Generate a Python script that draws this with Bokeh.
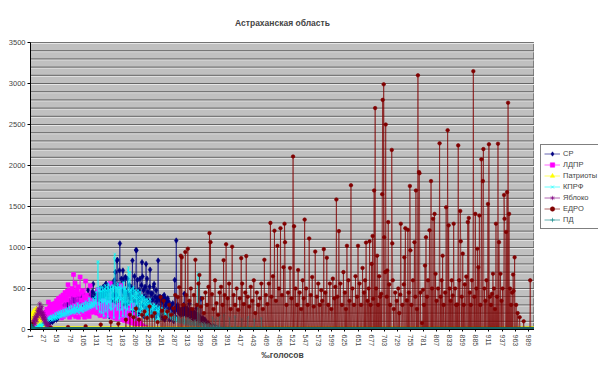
from bokeh.plotting import figure
from bokeh.layouts import row
from bokeh.models import (Range1d, FixedTicker, Legend, LegendItem,
                          ColumnDataSource)
from bokeh.embed import file_html
from bokeh.resources import INLINE

# ---------------- data ----------------
N_CAT = 1001
categories = list(range(1, N_CAT + 1))          # ‰ of votes

x_tick_labels = [1, 27, 53, 79, 105, 131, 157, 183, 209, 235, 261, 287, 313,
                 339, 365, 391, 417, 443, 469, 495, 521, 547, 573, 599, 625,
                 651, 677, 703, 729, 755, 781, 807, 833, 859, 885, 911, 937,
                 963, 989]
y_ticks = [0, 500, 1000, 1500, 2000, 2500, 3000, 3500]
grid_levels = [100 * k for k in range(1, 36)]

series_names = ["СР", "ЛДПР", "Патриоты", "КПРФ", "Яблоко", "ЕДРО", "ПД"]

# values from category 1 onward (rest are zero)
sr_vals = [
    0, 0, 5, 0, 10, 0, 5, 10, 0, 15,
    10, 20, 5, 25, 15, 30, 10, 20, 35, 15,
    30, 45, 20, 40, 60, 30, 50, 70, 40, 60,
    80, 50, 90, 60, 100, 70, 120, 80, 110, 90,
    130, 100, 150, 90, 140, 170, 110, 160, 130, 190,
    150, 120, 200, 170, 140, 220, 160, 190, 250, 180,
    210, 160, 240, 200, 270, 180, 230, 300, 210, 260,
    190, 280, 240, 320, 220, 260, 350, 240, 300, 270,
    330, 250, 290, 380, 260, 310, 240, 350, 280, 400,
    300, 260, 340, 280, 420, 310, 270, 360, 300, 390,
    280, 340, 450, 300, 380, 260, 330, 410, 290, 360,
    320, 400, 280, 350, 480, 310, 370, 290, 420, 340,
    380, 300, 460, 350, 555, 320, 400, 370, 440, 300,
    410, 360, 480, 335, 390, 450, 320, 420, 500, 380,
    440, 360, 480, 400, 520, 380, 460, 420, 500, 555,
    555, 300, 470, 220, 500, 330, 160, 480, 250, 520,
    350, 190, 560, 280, 420, 180, 600, 300, 700, 240,
    420, 840, 850, 300, 180, 540, 720, 1050, 260, 380,
    620, 200, 480, 720, 605, 260, 440, 150, 640, 330,
    460, 250, 620, 300, 180, 430, 540, 220, 380, 520,
    300, 450, 840, 220, 480, 290, 650, 340, 160, 970,
    965, 260, 605, 400, 190, 480, 360, 620, 240, 380,
    540, 820, 645, 300, 480, 160, 400, 520, 260, 800,
    300, 620, 180, 460, 340, 250, 520, 730, 280, 440,
    200, 440, 360, 180, 520, 555, 260, 400, 150, 480,
    340, 200, 380, 840, 260, 400, 180, 360, 395, 220,
    380, 140, 340, 400, 260, 420, 120, 380, 300, 160,
    340, 200, 380, 180, 340, 260, 120, 300, 280, 140,
    300, 160, 320, 240, 100, 220, 605, 260, 150, 1085,
    280, 240, 300, 220, 260, 200, 240, 180, 220, 185,
    240, 200, 260, 180, 300, 435, 220, 260, 180, 240,
    200, 260, 180, 220, 160, 315, 200, 180, 240, 160,
    200, 140, 180, 220, 120, 160, 200, 140, 180, 255,
    150, 120, 180, 100, 160, 130, 90, 140, 375, 110,
    120, 90, 140, 70, 100, 80, 120, 60, 90, 50,
    70, 40, 80, 30, 60, 20, 50, 0, 30, 0,
    20, 0, 40, 0, 10, 0, 30, 0, 0, 20,
]

ldpr_vals = [
    0, 10, 20, 15, 30, 25, 40, 30, 50, 45,
    60, 40, 80, 55, 90, 70, 110, 60, 120, 90,
    140, 80, 160, 110, 180, 130, 150, 200, 120, 170,
    210, 140, 250, 180, 230, 335, 190, 260, 150, 280,
    220, 310, 180, 210, 260, 300, 170, 240, 320, 200,
    280, 350, 220, 300, 250, 380, 210, 330, 285, 260,
    400, 140, 350, 220, 420, 160, 380, 250, 450, 180,
    400, 210, 360, 470, 545, 200, 420, 150, 480, 260,
    440, 180, 500, 240, 460, 670, 290, 420, 565, 160,
    450, 220, 480, 300, 520, 150, 430, 280, 640, 210,
    360, 250, 450, 475, 180, 330, 400, 150, 380, 590,
    220, 420, 180, 380, 240, 300, 160, 360, 535, 210,
    280, 350, 240, 320, 300, 210, 340, 260, 290, 230,
    270, 200, 310, 485, 220, 250, 190, 280, 170, 240,
    300, 180, 260, 220, 350, 200, 280, 160, 240, 310,
    220, 290, 180, 250, 200, 330, 170, 230, 560, 190,
    260, 180, 300, 150, 240, 200, 170, 280, 140, 220,
    190, 250, 130, 210, 160, 300, 140, 200, 180, 537,
    170, 230, 120, 190, 150, 260, 110, 180, 140, 200,
    130, 210, 100, 170, 240, 120, 190, 90, 280, 150,
    110, 160, 80, 300, 120, 90, 140, 70, 180, 100,
    60, 120, 80, 50, 100, 40, 90, 30, 70, 20,
    50, 0, 40, 20, 0, 30, 0, 10, 0, 20,
]

patr_vals = [
    60, 120, 90, 180, 140, 210, 100, 230, 160, 200,
    130, 250, 110, 190, 150, 90, 170, 70, 130, 60,
    100, 50, 80, 40, 60, 30, 50, 20, 40, 10,
    30, 0, 20, 0, 10, 0, 10, 0, 0, 0,
]

kprf_vals = [
    0, 5, 10, 0, 15, 10, 20, 5, 25, 15,
    30, 20, 40, 25, 50, 30, 60, 40, 70, 50,
    50, 30, 70, 40, 80, 50, 90, 60, 100, 70,
    110, 80, 120, 90, 140, 100, 150, 110, 160, 120,
    130, 170, 110, 150, 120, 180, 140, 160, 120, 200,
    140, 170, 130, 210, 150, 190, 140, 220, 160, 200,
    150, 230, 170, 200, 160, 240, 180, 210, 160, 250,
    190, 230, 170, 260, 200, 230, 180, 280, 210, 240,
    190, 290, 210, 250, 200, 270, 220, 300, 200, 260,
    230, 280, 210, 320, 230, 260, 200, 300, 240, 280,
    220, 310, 240, 270, 210, 320, 250, 290, 230, 340,
    260, 300, 240, 330, 280, 250, 380, 270, 310, 260,
    340, 280, 320, 270, 380, 300, 340, 280, 400, 310,
    460, 250, 500, 820, 830, 300, 480, 210, 520, 350,
    470, 200, 520, 330, 480, 160, 500, 340, 540, 220,
    480, 310, 520, 150, 560, 330, 490, 260, 530, 240,
    500, 250, 540, 370, 510, 140, 870, 920, 280, 520,
    360, 510, 240, 560, 380, 520, 130, 500, 360, 540,
    240, 510, 380, 160, 580, 330, 500, 260, 520, 140,
    480, 340, 240, 720, 760, 300, 460, 700, 240, 480,
    330, 500, 160, 410, 520, 240, 390, 480, 120, 460,
    310, 440, 170, 480, 390, 220, 350, 460, 170, 400,
    240, 420, 370, 190, 320, 400, 150, 370, 300, 180,
    330, 370, 180, 350, 310, 130, 260, 370, 190, 310,
    280, 130, 260, 290, 140, 310, 270, 100, 220, 290,
    240, 120, 220, 260, 90, 280, 240, 120, 190, 260,
    230, 260, 200, 250, 180, 240, 210, 190, 230, 170,
    210, 180, 160, 220, 150, 200, 170, 140, 190, 130,
    180, 150, 120, 170, 140, 110, 160, 130, 100, 150,
    120, 140, 100, 130, 90, 150, 110, 80, 120, 100,
    90, 130, 80, 110, 150, 70, 120, 90, 100, 60,
    110, 80, 140, 70, 100, 60, 90, 120, 50, 80,
    70, 100, 60, 90, 50, 80, 110, 60, 70, 40,
    90, 60, 680, 80, 50, 650, 70, 40, 60, 80,
    50, 70, 40, 60, 30, 80, 50, 40, 60, 30,
    50, 40, 60, 30, 70, 40, 50, 30, 40, 20,
    40, 150, 30, 50, 20, 40, 30, 120, 20, 40,
    30, 20, 40, 10, 30, 160, 20, 30, 10, 20,
    10, 0, 20, 0, 180, 10, 0, 20, 0, 10,
    0, 20, 0, 10, 0, 140, 0, 10, 0, 0,
    20, 0, 0, 10, 0, 0, 160, 0, 0, 10,
    0, 0, 20, 0, 0, 0, 10, 0, 0, 130,
    0, 0, 10, 0, 0, 0, 0, 20, 0, 0,
    0, 150, 0, 0, 0, 10, 0, 0, 0, 0,
    0, 0, 0, 0, 120, 0, 0, 0, 0, 0,
    0, 0, 0, 0, 0, 0, 0, 0, 140, 0,
]

yabl_vals = [
    20, 50, 40, 80, 60, 110, 90, 140, 70, 160,
    120, 190, 100, 230, 150, 260, 180, 220, 315, 200,
    250, 170, 280, 140, 210, 120, 180, 90, 150, 70,
    120, 50, 90, 40, 70, 30, 50, 20, 30, 10,
    20, 0, 10, 0, 0,
]

pd_vals = [30, 60, 40, 20, 10, 0, 15, 0, 5, 0]

# ЕДРО: non-zero categories only  {category: value}
edro_points = {
    1: 45, 2: 70, 3: 35, 4: 20, 6: 15, 40: 20, 75: 30, 110: 40, 140: 60,
    160: 90, 175: 70, 190: 120, 198: 180, 205: 150, 210: 255, 216: 120,
    222: 180, 227: 220, 232: 140, 237: 280, 242: 160, 247: 200, 253: 90,
    259: 395, 262: 230, 265: 350, 268: 150, 272: 220, 276: 300, 280: 180,
    284: 260, 288: 420, 293: 395, 296: 515, 299: 900, 301: 880, 304: 300,
    308: 945, 310: 420, 313: 985, 316: 350, 319: 500, 322: 250, 325: 420,
    328: 850, 331: 300, 334: 560, 336: 665, 339: 280, 342: 380, 345: 200,
    348: 450, 351: 300, 354: 520, 356: 1175, 358: 1065, 361: 430, 364: 250,
    367: 600, 370: 320, 373: 180, 376: 450, 379: 520, 382: 300, 384: 845,
    386: 420, 389: 1040, 392: 380, 395: 560, 398: 250, 401: 1010, 404: 420,
    407: 300, 410: 500, 413: 240, 416: 380, 419: 870, 421: 560, 424: 310,
    427: 450, 429: 895, 432: 400, 435: 280, 438: 520, 441: 350, 444: 600,
    447: 200, 450: 450, 453: 300, 456: 380, 459: 560, 462: 250, 465: 850,
    468: 420, 471: 310, 474: 560, 477: 1300, 479: 400, 482: 650, 485: 1205,
    488: 350, 491: 1020, 494: 500, 497: 1235, 500: 420, 503: 760, 505: 1290,
    506: 1065, 509: 300, 512: 450, 516: 750, 519: 380, 522: 2110, 524: 1260,
    527: 500, 530: 300, 532: 725, 535: 450, 538: 250, 541: 600, 543: 380,
    545: 1340, 548: 500, 551: 300, 554: 1110, 557: 420, 560: 640, 563: 280,
    566: 950, 569: 400, 572: 560, 575: 300, 578: 480, 580: 350, 583: 980,
    586: 450, 589: 875, 592: 300, 595: 560, 598: 250, 601: 620, 604: 380,
    606: 520, 608: 1585, 610: 400, 613: 1200, 616: 560, 619: 300, 622: 700,
    625: 450, 627: 250, 629: 1020, 632: 600, 634: 350, 637: 1760, 640: 500,
    643: 300, 646: 650, 649: 400, 651: 1020, 654: 560, 657: 300, 660: 750,
    663: 450, 665: 600, 667: 1060, 670: 350, 672: 500, 674: 1075, 676: 300,
    678: 800, 680: 1140, 681: 375, 683: 1695, 685: 2700, 687: 500, 689: 900,
    691: 300, 693: 650, 695: 400, 697: 435, 699: 1650, 700: 2800, 702: 2990,
    703: 1125, 705: 700, 706: 2500, 708: 400, 709: 720, 711: 1310, 713: 550,
    715: 300, 718: 2190, 719: 1050, 720: 600, 722: 250, 725: 450, 728: 350,
    731: 500, 733: 200, 735: 425, 736: 1290, 739: 300, 742: 550, 743: 880,
    745: 1235, 748: 355, 750: 1215, 752: 450, 754: 1750, 755: 965, 757: 300,
    760: 600, 763: 1065, 765: 400, 766: 1695, 768: 250, 770: 3100, 772: 1920,
    773: 1905, 775: 450, 778: 80, 780: 485, 782: 300, 784: 780, 786: 1125,
    788: 400, 790: 600, 793: 1210, 796: 1810, 798: 500, 800: 1350, 803: 1410,
    805: 680, 807: 350, 810: 500, 813: 2270, 815: 400, 817: 600, 819: 900,
    821: 300, 824: 450, 826: 1490, 829: 2430, 831: 1270, 833: 500, 835: 350,
    837: 600, 839: 415, 841: 1290, 844: 500, 846: 300, 848: 305, 850: 2245,
    852: 600, 854: 1445, 855: 1075, 857: 400, 859: 925, 861: 300, 863: 550,
    866: 645, 869: 1310, 871: 1360, 873: 450, 875: 300, 877: 600, 880: 3150,
    882: 400, 884: 1410, 886: 500, 888: 985, 890: 760, 892: 1390, 894: 300,
    896: 2075, 899: 1810, 900: 2200, 902: 500, 904: 350, 906: 600, 909: 1530,
    911: 2260, 913: 400, 915: 300, 917: 435, 919: 680, 921: 500, 923: 250,
    925: 1290, 927: 400, 929: 2265, 931: 1065, 934: 680, 936: 350, 938: 500,
    941: 1640, 942: 1350, 945: 1190, 947: 1675, 949: 2765, 951: 1410,
    953: 500, 955: 300, 957: 450, 959: 670, 960: 470, 962: 880, 965: 300,
    968: 200, 972: 150, 980: 100, 993: 600,
}


def full(vals):
    return list(vals) + [0] * (N_CAT - len(vals))


edro_vals = [0] * N_CAT
for c, v in edro_points.items():
    edro_vals[c - 1] = v

series_values = [full(sr_vals), full(ldpr_vals), full(patr_vals),
                 full(kprf_vals), full(yabl_vals), edro_vals, full(pd_vals)]
series_colors = ["#000080", "#ff00ff", "#ffff00", "#00ffff", "#800080",
                 "#800000", "#008080"]
series_markers = ["diamond", "square", "triangle", "x", "asterisk",
                  "circle", "cross"]
series_sizes = [5.5, 4, 5, 4, 5, 3.6, 5]

# ---------------- layout ----------------
FONT = "Liberation Sans"
FIG_H = 370
LEFT, TOP = 30, 42
PLOT_W, PLOT_H = 504, 287           # grey plot area in px
BOTTOM = FIG_H - TOP - PLOT_H
LEG_W = 64
Y_MAX = 3500
px = Y_MAX / PLOT_H                 # data units per pixel
x_lo, x_hi = 0.5, N_CAT + 0.5

p = figure(width=LEFT + PLOT_W, height=FIG_H,
           x_range=Range1d(x_lo, x_hi), y_range=Range1d(0, Y_MAX),
           output_backend="svg", toolbar_location=None,
           min_border_left=LEFT, min_border_right=0,
           min_border_top=TOP, min_border_bottom=BOTTOM,
           background_fill_color="#c0c0c0", border_fill_color="white",
           outline_line_color="#808080")
p.xgrid.visible = False
p.ygrid.visible = False

# grooved grid lines
p.segment(x0=[x_lo] * len(grid_levels), x1=[x_hi] * len(grid_levels),
          y0=[g - px for g in grid_levels], y1=[g - px for g in grid_levels],
          line_color="#e6e6e6", line_width=1, level="underlay")
p.segment(x0=[x_lo] * len(grid_levels), x1=[x_hi] * len(grid_levels),
          y0=grid_levels, y1=grid_levels,
          line_color="#666666", line_width=1, level="underlay")

p.title.text = "Астраханская область"
p.title.align = "center"
p.title.offset = 18
p.title.text_font = FONT
p.title.text_font_size = "8.5px"
p.title.text_font_style = "bold"
p.title.standoff = 29

p.yaxis.ticker = FixedTicker(ticks=y_ticks)
p.yaxis.major_label_text_font = FONT
p.yaxis.major_label_text_font_size = "7.5px"
p.yaxis.major_tick_out = 3
p.yaxis.major_tick_in = 0
p.yaxis.minor_tick_out = 0
p.yaxis.minor_tick_in = 0
p.yaxis.major_label_standoff = 2
p.yaxis.axis_line_color = "black"

p.xaxis.ticker = FixedTicker(ticks=x_tick_labels)
p.xaxis.major_label_orientation = "vertical"
p.xaxis.major_label_text_font = FONT
p.xaxis.major_label_text_font_size = "7px"
p.xaxis.major_tick_out = 2
p.xaxis.major_tick_in = 0
p.xaxis.minor_tick_out = 0
p.xaxis.minor_tick_in = 0
p.xaxis.major_label_standoff = 3
p.xaxis.axis_line_color = "black"
p.xaxis.axis_label = "‰голосов"
p.xaxis.axis_label_text_font = FONT
p.xaxis.axis_label_text_font_size = "8.5px"
p.xaxis.axis_label_text_font_style = "bold"
p.xaxis.axis_label_standoff = 1

# legend lives in a narrow companion figure to the right
pl = figure(width=LEG_W, height=FIG_H, x_range=Range1d(0, 1),
            y_range=Range1d(0, 1), output_backend="svg",
            toolbar_location=None, x_axis_location=None,
            y_axis_location=None, min_border=0,
            background_fill_color="white", border_fill_color="white",
            outline_line_color=None)
pl.xgrid.visible = False
pl.ygrid.visible = False

items = []
for name, vals, col, mk, sz in zip(series_names, series_values, series_colors,
                                   series_markers, series_sizes):
    src = ColumnDataSource(dict(x=categories, y=vals))
    p.line("x", "y", source=src, line_color=col, line_alpha=0.6,
           line_width=1)
    p.scatter("x", "y", source=src, marker=mk, size=sz,
              fill_color=col, line_color=col, line_width=0.6)
    # legend swatches (same styles; the single point lies outside the view)
    swatch = ColumnDataSource(dict(x=[-5, -4], y=[-5, -5]))
    lr = pl.line("x", "y", source=swatch, line_color=col, line_alpha=0.6,
                 line_width=1)
    mr = pl.scatter("x", "y", source=swatch, marker=mk, size=sz + 1,
                    fill_color=col, line_color=col, line_width=0.6)
    items.append(LegendItem(label=name, renderers=[lr, mr]))

legend = Legend(items=items, location=(6, 100),
                label_text_font=FONT, label_text_font_size="7.5px",
                glyph_width=16, glyph_height=11, label_height=11,
                spacing=0, padding=3, margin=0, label_standoff=3,
                border_line_color="black", border_line_width=1,
                background_fill_color="white", background_fill_alpha=1)
pl.add_layout(legend)

layout = row(p, pl, spacing=0)
open("out.html", "w").write(file_html(layout, INLINE))
